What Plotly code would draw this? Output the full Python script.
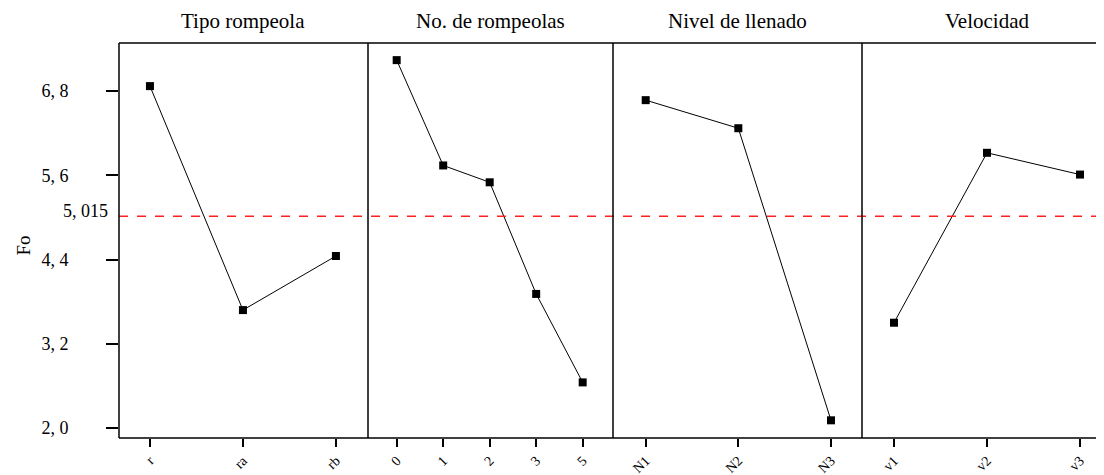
import plotly.graph_objects as go

panel_titles = ["Tipo rompeola", "No. de rompeolas", "Nivel de llenado", "Velocidad"]
cats_tipo = ["r", "ra", "rb"]
vals_tipo = [6.87, 3.68, 4.45]
cats_num = ["0", "1", "2", "3", "5"]
vals_num = [7.24, 5.74, 5.50, 3.91, 2.65]
cats_nivel = ["N1", "N2", "N3"]
vals_nivel = [6.67, 6.27, 2.11]
cats_vel = ["v1", "v2", "v3"]
vals_vel = [3.50, 5.92, 5.61]
mean_value = 5.015
y_ticks = [2.0, 3.2, 4.4, 5.6, 6.8]
y_ticktext = ["2, 0", "3, 2", "4, 4", "5, 6", "6, 8"]
mean_label = "5, 015"
y_title = "Fo"

panels = [(cats_tipo, vals_tipo), (cats_num, vals_num), (cats_nivel, vals_nivel), (cats_vel, vals_vel)]
OFF = 8  # page body margin
W, H = 1104 - OFF, 475 - OFF
ml, mr, mt, mb = 119 - OFF, 0, 43 - OFF, 37
PW = W - ml - mr
edges_px = [119, 368, 613, 862, 1104]
domains = [[(edges_px[i] - 119) / PW, (edges_px[i + 1] - 119) / PW] for i in range(4)]
domains[-1][1] = 1.0
title_centers_px = [243, 490, 737, 987]
xranges = [[-0.333, 2.345], [-0.617, 4.652], [-0.353, 2.335], [-0.344, 2.258]]
yrange = [1.858, 7.484]
font_fam = "Liberation Serif, Times New Roman, serif"

fig = go.Figure()
for i, (cats, vals) in enumerate(panels):
    xa = "x" if i == 0 else f"x{i+1}"
    fig.add_trace(go.Scatter(
        x=cats, y=vals, xaxis=xa, yaxis="y", mode="lines+markers",
        line=dict(color="black", width=1),
        marker=dict(symbol="square", size=8, color="black"),
        showlegend=False, cliponaxis=False,
    ))
    key = "xaxis" if i == 0 else f"xaxis{i+1}"
    fig.layout[key] = dict(
        domain=domains[i], range=xranges[i], type="category",
        categoryorder="array", categoryarray=cats,
        ticks="outside", ticklen=8, tickwidth=1.5, tickcolor="black",
        tickangle=-45, tickfont=dict(family=font_fam, size=14, color="black"),
        showgrid=False, zeroline=False, showline=False, anchor="y",
        automargin=False, fixedrange=True,
    )
    fig.add_annotation(
        x=(title_centers_px[i] - 119) / PW, y=1, xref="paper", yref="paper",
        xanchor="center", yanchor="bottom", yshift=8,
        text=panel_titles[i], showarrow=False,
        font=dict(family=font_fam, size=21, color="black"),
    )

fig.update_layout(
    yaxis=dict(
        range=yrange, tickvals=y_ticks, ticktext=y_ticktext,
        ticks="outside", ticklen=12, tickwidth=1.5, tickcolor="black",
        tickfont=dict(family=font_fam, size=18, color="black"),
        ticklabelstandoff=34,
        showgrid=False, zeroline=False, showline=False,
        automargin=False, fixedrange=True,
    ),
    width=W, height=H,
    margin=dict(l=ml, r=mr, t=mt, b=mb, autoexpand=False),
    plot_bgcolor="white", paper_bgcolor="white",
)

# y axis title
fig.add_annotation(x=-96 / PW, y=4.6, xref="paper", yref="y", xanchor="center", yanchor="middle",
                   text=y_title, textangle=-90, showarrow=False,
                   font=dict(family=font_fam, size=19, color="black"))

# mean line
fig.add_shape(type="line", xref="paper", yref="y", x0=0, x1=1, y0=mean_value, y1=mean_value,
              line=dict(color="#ff2020", width=1.5, dash="dash"))
fig.add_annotation(x=0, y=mean_value, xref="paper", yref="y", xanchor="right", yanchor="middle",
                   xshift=-9, yshift=5,
                   text=mean_label, showarrow=False, font=dict(family=font_fam, size=18, color="black"))

# frame lines
fig.add_shape(type="line", xref="paper", yref="paper", x0=0, x1=1, y0=1, y1=1, line=dict(color="black", width=1.5))
fig.add_shape(type="line", xref="paper", yref="paper", x0=0, x1=1, y0=0, y1=0, line=dict(color="black", width=1.5))
for d in domains:
    fig.add_shape(type="line", xref="paper", yref="paper", x0=d[0], x1=d[0], y0=0, y1=1,
                  line=dict(color="black", width=1.5))

fig.write_html("out.html")
